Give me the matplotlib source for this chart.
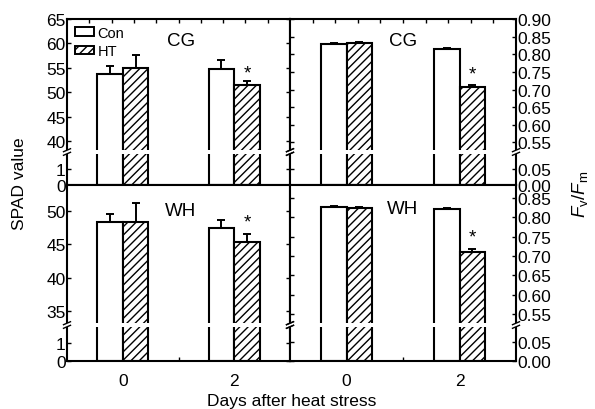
import matplotlib
matplotlib.use("Agg")
import matplotlib.pyplot as plt
from matplotlib.patches import Patch, Rectangle
from matplotlib.lines import Line2D
import numpy as np

plt.rcParams['font.family'] = ['Liberation Sans', 'DejaVu Sans']
plt.rcParams['mathtext.fontset'] = 'custom'
plt.rcParams['mathtext.rm'] = 'Liberation Sans'
plt.rcParams['mathtext.it'] = 'Liberation Sans:italic'
plt.rcParams['hatch.linewidth'] = 1.0

# data: days 0 and 2
days = [0, 2]
day_labels = ['0', '2']

spad_cg_con = [53.8, 54.8]
spad_cg_con_err = [1.6, 1.7]
spad_cg_ht = [54.9, 51.5]
spad_cg_ht_err = [2.8, 0.8]

spad_wh_con = [48.3, 47.4]
spad_wh_con_err = [1.3, 1.2]
spad_wh_ht = [48.3, 45.4]
spad_wh_ht_err = [2.9, 1.1]

fv_cg_con = [0.829, 0.815]
fv_cg_con_err = [0.002, 0.002]
fv_cg_ht = [0.832, 0.707]
fv_cg_ht_err = [0.004, 0.005]

fv_wh_con = [0.827, 0.822]
fv_wh_con_err = [0.003, 0.002]
fv_wh_ht = [0.824, 0.711]
fv_wh_ht_err = [0.002, 0.008]

W, H = 595, 410
fig = plt.figure(figsize=(W / 100, H / 100), dpi=100)


def fbox(x0, x1, y0, y1):
    # pixel box (top-left origin) -> figure rect
    return [x0 / W, 1 - y1 / H, (x1 - x0) / W, (y1 - y0) / H]


bw = 0.46
FS = 12.5


def draw_bars(ax, con, con_err, ht, ht_err):
    x = np.array(days, dtype=float)
    ax.bar(x - bw / 2, con, bw, color='white', edgecolor='black', linewidth=1.5, zorder=2)
    ax.bar(x + bw / 2, ht, bw, color='white', edgecolor='black', hatch='////', linewidth=1.5, zorder=2)
    ax.errorbar(x - bw / 2, con, yerr=[np.zeros(2), con_err], fmt='none', ecolor='black',
                elinewidth=1.4, capsize=3, capthick=1.4, zorder=3)
    ax.errorbar(x + bw / 2, ht, yerr=[np.zeros(2), ht_err], fmt='none', ecolor='black',
                elinewidth=1.4, capsize=3, capthick=1.4, zorder=3)


def panel(xpx, ypx, ylim_hi, ylim_lo, ticks_hi, ticks_lo, fmt, right, data, name, name_y, star_y, bottom_row):
    x0, x1 = xpx
    ytop, ybrk, ybot = ypx
    axu = fig.add_axes(fbox(x0, x1, ytop, ybrk))
    axl = fig.add_axes(fbox(x0, x1, ybrk, ybot))
    for ax, lim, tks in ((axu, ylim_hi, ticks_hi), (axl, ylim_lo, ticks_lo)):
        draw_bars(ax, *data)
        ax.set_xlim(-1, 3)
        ax.set_ylim(*lim)
        ax.set_yticks(tks)
        ax.set_yticklabels([fmt.format(t) for t in tks], fontsize=FS)
        for s in ax.spines.values():
            s.set_linewidth(1.5)
        ax.tick_params(axis='y', direction='in', length=3, width=1, left=True, right=True,
                       labelleft=not right, labelright=right, pad=1)
        ax.set_xticks([])
    axu.spines['bottom'].set_visible(False)
    axl.spines['top'].set_visible(False)
    if not bottom_row:
        axu.set_xticks(np.arange(-0.6, 3.0, 0.4), minor=True)
        axu.tick_params(axis='x', which='minor', direction='in', top=True, bottom=False, length=3, width=1)
    else:
        axl.set_xticks(days)
        axl.set_xticklabels(day_labels, fontsize=FS)
        axl.set_xticks([1], minor=True)
        axl.tick_params(axis='x', which='both', direction='in', length=3, width=1, pad=9)
    axu.text(0.51 if not right else 0.5, name_y, name,
             transform=axu.transAxes, ha='center', va='center', fontsize=FS + 1)
    axu.text(2 + bw / 2, star_y, '*', ha='center', va='center', fontsize=FS + 1)
    # break: white band and slashes
    fig.add_artist(Rectangle(((x0 - 3) / W, 1 - (ybrk + 1.8) / H), (x1 - x0 + 6) / W, 3.6 / H,
                             facecolor='white', edgecolor='none', zorder=10))
    for sx in (x0, x1):
        for dy in (-1.8, 1.8):
            fig.add_artist(Line2D([(sx - 3.5) / W, (sx + 3.5) / W],
                                  [1 - (ybrk + dy + 1.5) / H, 1 - (ybrk + dy - 1.5) / H],
                                  color='black', linewidth=1.0, zorder=11))
    return axu, axl


LX = (67, 290)
RX = (290, 516)
TOP = (20, 153, 186)
BOT = (186, 326, 362)

axu, axl = panel(LX, TOP, (37.75, 65), (0, 2.06), [40, 45, 50, 55, 60, 65], [0, 1], '{:g}', False,
                 (spad_cg_con, spad_cg_con_err, spad_cg_ht, spad_cg_ht_err), 'CG', 0.84, 53.9, False)
handles = [Patch(facecolor='white', edgecolor='black', linewidth=1.4, label='Con'),
           Patch(facecolor='white', edgecolor='black', hatch='////', linewidth=1.4, label='HT')]
axu.legend(handles=handles, loc='upper left', bbox_to_anchor=(-0.01, 1.025), frameon=False,
           fontsize=10.5, handlelength=1.3, handleheight=0.55, handletextpad=0.25,
           labelspacing=0.3, borderaxespad=0.3)

panel(RX, TOP, (0.523, 0.90), (0, 0.103), [0.55, 0.60, 0.65, 0.70, 0.75, 0.80, 0.85, 0.90],
      [0.00, 0.05], '{:.2f}', True,
      (fv_cg_con, fv_cg_con_err, fv_cg_ht, fv_cg_ht_err), 'CG', 0.84, 0.745, False)

panel(LX, BOT, (32.9, 53.9), (0, 2.0), [35, 40, 45, 50], [0, 1], '{:g}', False,
      (spad_wh_con, spad_wh_con_err, spad_wh_ht, spad_wh_ht_err), 'WH', 0.82, 48.3, True)

panel(RX, BOT, (0.522, 0.8836), (0, 0.095), [0.55, 0.60, 0.65, 0.70, 0.75, 0.80, 0.85],
      [0.00, 0.05], '{:.2f}', True,
      (fv_wh_con, fv_wh_con_err, fv_wh_ht, fv_wh_ht_err), 'WH', 0.83, 0.75, True)

fig.text(20 / W, 1 - 184 / H, 'SPAD value', rotation=90, ha='center', va='center', fontsize=FS)
fig.text(292 / W, 1 - 402 / H, 'Days after heat stress', ha='center', va='center', fontsize=FS)
fig.text(580 / W, 1 - 194 / H, r'$F_{\rm v}/F_{\rm m}$', rotation=90, ha='center', va='center',
         fontsize=FS + 1)

fig.savefig('out.png', dpi=100)
